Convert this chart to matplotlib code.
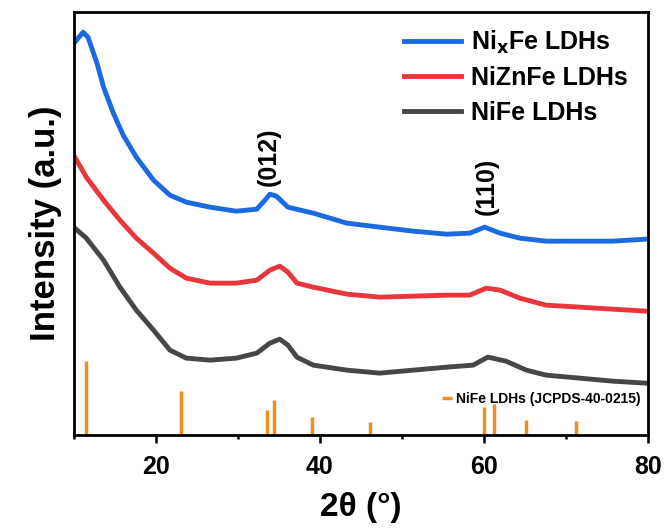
import matplotlib.pyplot as plt
from matplotlib.ticker import MultipleLocator

plt.rcParams["font.family"] = ["Liberation Sans", "DejaVu Sans"]
plt.rcParams["font.weight"] = "bold"

# 2theta sample points
tt_blue = [10.1, 11.1, 11.7, 12.8, 13.6, 14.8, 16.0, 17.6, 19.7, 21.7, 23.7, 26.6, 29.8,
           32.3, 33.3, 33.9, 34.7, 36.1, 39.2, 43.3, 47.3, 51.4, 55.5, 58.3, 60.1, 62.0,
           64.4, 67.6, 71.7, 75.7, 79.8]
blue = [393, 403, 398, 372, 348, 322, 300, 278, 255, 240, 233, 228, 224,
        226, 235, 241, 239, 228, 222, 212, 208, 204, 201, 202, 208, 202,
        197, 194, 194, 194, 196]

tt_red = [10.1, 11.5, 13.6, 15.6, 17.6, 19.7, 21.7, 23.7, 26.6, 29.8, 32.3, 33.9, 35.1,
          36.1, 37.2, 39.2, 43.3, 47.3, 51.4, 55.5, 58.3, 60.3, 62.0, 64.4, 67.6, 71.7,
          75.7, 79.8]
red = [278, 258, 235, 215, 197, 182, 167, 157, 152, 152, 155, 165, 169,
       163, 152, 148, 141, 138, 139, 140, 140, 147, 145, 137, 130, 128,
       126, 124]

tt_gray = [10.1, 11.5, 13.6, 15.6, 17.6, 19.7, 21.7, 23.7, 26.6, 29.8, 32.3, 33.9, 35.1,
           36.1, 37.2, 39.2, 43.3, 47.3, 51.4, 55.5, 58.7, 60.5, 62.7, 65.2, 67.6, 71.7,
           75.7, 79.8]
gray = [207, 197, 175, 148, 125, 105, 85, 77, 75, 77, 82, 92, 96,
        90, 78, 70, 65, 62, 65, 68, 70, 78, 74, 65, 60, 57,
        54, 52]

# reference pattern JCPDS 40-0215
ref_pos = [11.4, 23.0, 33.6, 34.4, 39.1, 46.1, 60.0, 61.3, 65.2, 71.3]
ref_h = [74, 44, 25, 35, 18, 13, 28, 31, 15, 14]

c_blue = "#1a6ae0"
c_red = "#e8363c"
c_gray = "#474747"
c_ref = "#f28e1c"

fig = plt.figure(figsize=(6.67, 5.3), dpi=100)
ax = fig.add_axes([0.111, 0.179, 0.86, 0.798])

l1, = ax.plot(tt_blue, blue, color=c_blue, lw=3.5, label=r"Ni$_\mathbf{x}$Fe LDHs")
l2, = ax.plot(tt_red, red, color=c_red, lw=3.5, label="NiZnFe LDHs")
l3, = ax.plot(tt_gray, gray, color=c_gray, lw=3.5, label="NiFe LDHs")
st = ax.vlines(ref_pos, 0, ref_h, color=c_ref, lw=2.5, label="NiFe LDHs (JCPDS-40-0215)")

ax.text(33.8, 278, "(012)", rotation=90, ha="center", va="center", fontsize=18, fontweight="bold")
ax.text(60.4, 249, "(110)", rotation=90, ha="center", va="center", fontsize=18, fontweight="bold")

leg1 = ax.legend(handles=[l1, l2, l3], loc="upper right", bbox_to_anchor=(1.005, 1.015),
                 frameon=False, handlelength=2.3, handletextpad=0.4,
                 labelspacing=0.42, prop={"weight": "bold", "size": 18})
ax.add_artist(leg1)
ax.legend(handles=[st], loc="lower right", bbox_to_anchor=(1.01, 0.04), frameon=False,
          handlelength=0.7, handletextpad=0.3, prop={"weight": "bold", "size": 10})

ax.set_xlim(10, 80)
ax.set_ylim(0, 423)
ax.xaxis.set_major_locator(MultipleLocator(20))
ax.xaxis.set_minor_locator(MultipleLocator(10))
ax.set_yticks([])
ax.tick_params(axis="x", which="major", direction="out", length=6, width=1.8, labelsize=18, pad=8)
ax.tick_params(axis="x", which="minor", direction="out", length=3, width=1.8)
for s in ax.spines.values():
    s.set_linewidth(2)

ax.set_xlabel("2θ (°)", fontsize=24, fontweight="bold", labelpad=10)
ax.set_ylabel("Intensity (a.u.)", fontsize=25, fontweight="bold", labelpad=9)

fig.savefig("out.png", dpi=100)
